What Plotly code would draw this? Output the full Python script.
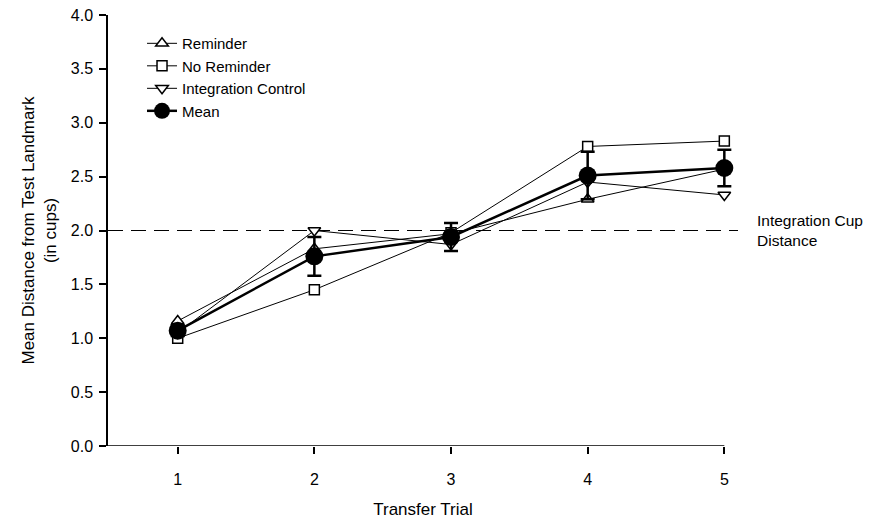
import plotly.graph_objects as go

trials = [1, 2, 3, 4, 5]
tick_labels = ["1", "2", "3", "4", "5"]
reminder = [1.16, 1.83, 1.97, 2.29, 2.57]
no_reminder = [1.00, 1.45, 1.98, 2.78, 2.83]
integration_control = [1.05, 2.00, 1.87, 2.45, 2.33]
mean_vals = [1.07, 1.76, 1.94, 2.51, 2.58]
mean_err = [0.05, 0.18, 0.13, 0.22, 0.17]
integration_cup = 2.0

FONT = "Liberation Sans, Arial, Helvetica, sans-serif"

fig = go.Figure()

# dashed reference line
fig.add_trace(go.Scatter(x=[0.49, 5.1], y=[integration_cup, integration_cup], mode="lines",
                         line=dict(color="black", width=1.2, dash="15px,8px"),
                         showlegend=False, hoverinfo="skip"))

def add_series(name, y, symbol, size):
    fig.add_trace(go.Scatter(x=trials, y=y, mode="lines+markers", name=name,
                             line=dict(color="black", width=1),
                             marker=dict(symbol=symbol, size=size, color="white",
                                         line=dict(color="black", width=1.5))))

add_series("Reminder", reminder, "triangle-up", 11)
add_series("No Reminder", no_reminder, "square", 10)
add_series("Integration Control", integration_control, "triangle-down", 11)

fig.add_trace(go.Scatter(x=trials, y=mean_vals, mode="lines+markers", name="Mean",
                         line=dict(color="black", width=2.5),
                         marker=dict(symbol="circle", size=18, color="black"),
                         error_y=dict(type="data", array=mean_err, color="black",
                                      thickness=2.5, width=7)))

# x-axis baseline (only up to trial 5)
fig.add_shape(type="line", x0=0.49, x1=5, y0=0, y1=0, xref="x", yref="y",
              line=dict(color="black", width=1.5))

fig.add_annotation(x=1.027, y=integration_cup, xref="paper", yref="y",
                   text="Integration Cup<br>Distance", showarrow=False,
                   xanchor="left", yanchor="middle", align="left",
                   font=dict(family=FONT, size=15.5, color="black"))

fig.update_layout(
    width=880, height=511,
    margin=dict(l=100, r=150, t=7, b=73),
    paper_bgcolor="white", plot_bgcolor="white",
    font=dict(family=FONT, size=16, color="black"),
    hovermode=False,
    legend=dict(x=0.054, y=0.972, xanchor="left", yanchor="top",
                bgcolor="rgba(0,0,0,0)", font=dict(family=FONT, size=15),
                tracegroupgap=0, itemsizing="trace"),
    xaxis=dict(range=[0.49, 5.1], tickmode="array", tickvals=trials, ticktext=tick_labels,
               showline=False, showgrid=False, zeroline=False, automargin=False,
               ticks="outside", ticklen=7, tickwidth=1.5, tickcolor="black",
               ticklabelstandoff=12,
               title=dict(text="Transfer Trial", standoff=17, font=dict(size=17))),
    yaxis=dict(range=[0, 4], tickmode="array", tickvals=[0, 0.5, 1, 1.5, 2, 2.5, 3, 3.5, 4],
               ticktext=["0.0", "0.5", "1.0", "1.5", "2.0", "2.5", "3.0", "3.5", "4.0"],
               showline=True, linecolor="black", linewidth=1.5,
               showgrid=False, zeroline=False, automargin=False,
               ticks="outside", ticklen=7, tickwidth=1.5, tickcolor="black",
               ticklabelstandoff=3, ticklabeloverflow="allow",
               title=dict(text="Mean Distance from Test Landmark<br>(in cups)", standoff=10,
                          font=dict(size=17))),
)

fig.write_html("out.html")
